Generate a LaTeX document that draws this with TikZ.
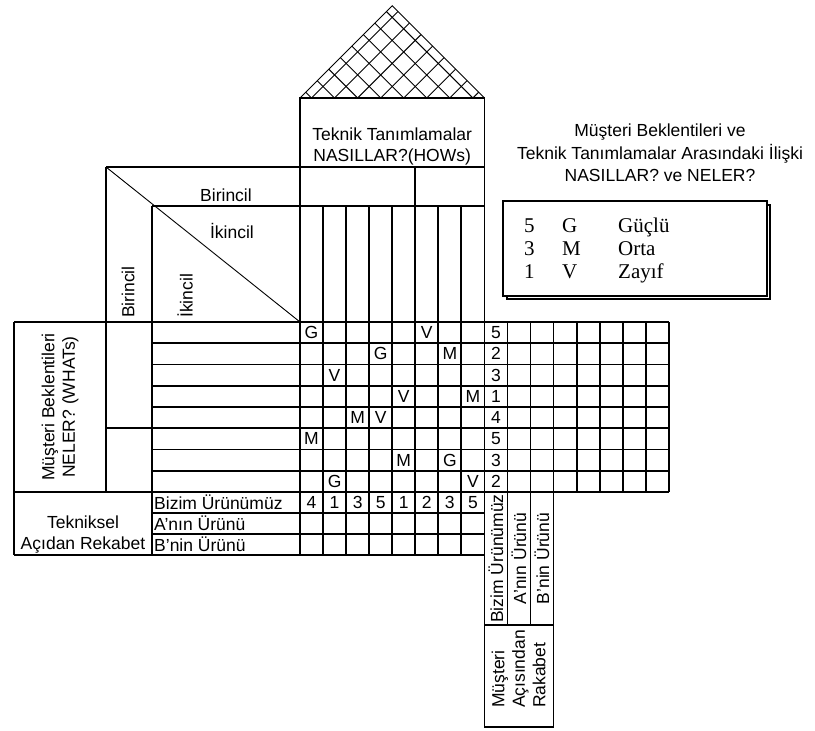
\documentclass[tikz,border=0pt]{standalone}
\usepackage{fontspec}
\setmainfont{Liberation Sans}
\newfontfamily\legendfont{Liberation Serif}
\usetikzlibrary{calc}
\newcommand{\hoqfont}{\fontsize{17.5}{20.5}\selectfont}
\newcommand{\colw}{23.05}
\newcommand{\rowh}{21.25}
\tikzset{
  gridline/.style={line width=1.8pt},
  thinline/.style={line width=0.9pt},
  lbl/.style={font=\hoqfont, inner sep=0pt},
  legtext/.style={font=\legendfont\fontsize{21}{23}\selectfont, inner sep=0pt, anchor=base west}
}

\begin{document}
\begin{tikzpicture}[x=1pt, y=-1pt]
  \useasboundingbox (0,0) rectangle (815,731);

  % roof
  \draw[thinline] (300,98) -- (392.2,5.8) -- (484.4,98);
  \foreach \k in {0,...,7}{
    \pgfmathsetmacro\xk{300+\colw*(\k+0.5)}
    \pgfmathsetmacro\ur{(484.4-\xk)/2}
    \pgfmathsetmacro\ul{(\xk-300)/2}
    \draw[thinline] (\xk,98) -- ++(\ur,-\ur);
    \draw[thinline] (\xk,98) -- ++(-\ul,-\ul);
  }

  % HOWs header
  \draw[gridline] (300,98) rectangle (484.4,167);
  \node[lbl, align=center, anchor=south] (hows) at (392.2,165) {Teknik Tanımlamalar\\NASILLAR?(HOWs)};
  \draw[gridline] (106,167) -- (484.4,167);
  \draw[gridline] (152,206) -- (484.4,206);
  \draw[gridline] (106,167) -- (106,492);
  \draw[gridline] (152,206) -- (152,555);
  \draw[gridline] (300,167) -- (300,555);
  \draw[gridline] (484.4,167) -- (484.4,727);
  \draw[gridline] (415.25,167) -- (415.25,206);
  \draw[thinline] (106,167) -- (300,322);

  \node[lbl] (topbir) at (226,195) {Birincil};
  \node[lbl] (topiki) at (232,231) {İkincil};
  \node[lbl, rotate=90, anchor=west] (sidebir) at (128,318) {Birincil};
  \node[lbl, rotate=90, anchor=west] (sideiki) at (185,318) {İkincil};

  % matrix columns and rows
  \foreach \i in {1,...,7}
    \draw[gridline] ({300+\colw*\i},206) -- ({300+\colw*\i},555);
  \foreach \i in {9,10}
    \draw[gridline] ({300+\colw*\i},322) -- ({300+\colw*\i},625);
  \draw[gridline] ({300+\colw*11},322) -- ({300+\colw*11},727);
  \foreach \i in {12,...,16}
    \draw[gridline] ({300+\colw*\i},322) -- ({300+\colw*\i},492);
  \foreach \j in {1,...,7}
    \draw[gridline] (152,{322+\rowh*\j}) -- (668.8,{322+\rowh*\j});
  \draw[gridline] (14,322) -- (668.8,322);
  \draw[gridline] (14,492) -- (668.8,492);
  \draw[gridline] (106,428.25) -- (152,428.25);
  \draw[gridline] (14,322) -- (14,555);

  \node[lbl, rotate=90, align=center] (whats) at (60,407) {Müşteri Beklentileri\\NELER? (WHATs)};

  % relationships
  \foreach \cc/\rr/\ltr in {1/1/G, 6/1/V, 4/2/G, 7/2/M, 2/3/V, 5/4/V, 8/4/M, 3/5/M,
                            4/5/V, 1/6/M, 5/7/M, 7/7/G, 2/8/G, 8/8/V}
    \node[lbl] (rel-\cc-\rr) at ({300+\colw*(\cc-0.5)},{322+\rowh*(\rr-0.5)}) {\ltr};
  \foreach \v [count=\j] in {5,2,3,1,4,5,3,2}
    \node[lbl] (imp\j) at (496,{322+\rowh*(\j-0.5)}) {\v};

  % technical competition
  \foreach \j in {1,2}
    \draw[gridline] (152,{492+21*\j}) -- (484.4,{492+21*\j});
  \draw[gridline] (14,555) -- (484.4,555);
  \node[lbl, align=center, anchor=south] (tekrek) at (83,553) {Tekniksel\\Açıdan Rekabet};
  \foreach \txt [count=\j from 0] in {Bizim Ürünümüz, A'nın Ürünü, B'nin Ürünü}
    \node[lbl, anchor=west] (comp\j) at (154,{502.5+21*\j}) {\txt};
  \foreach \v [count=\i] in {4,1,3,5,1,2,3,5}
    \node[lbl] (ours\i) at ({300+\colw*(\i-0.5)},502.5) {\v};

  % customer competition
  \draw[gridline] (484.4,625) -- (553.5,625);
  \draw[gridline] (484.4,727) -- (553.5,727);
  \node[lbl, rotate=90] (colours) at (496,558.5) {Bizim Ürünümüz};
  \node[lbl, rotate=90] (cola) at (519,558.5) {A'nın Ürünü};
  \node[lbl, rotate=90] (colb) at (542,558.5) {B'nin Ürünü};
  \node[lbl, rotate=90, align=left] (musrek) at (518.5,669) {Müşteri\\Açısından\\Rakabet};

  % legend
  \node[lbl, align=center, font=\fontsize{17.5}{22.5}\selectfont] (reltitle) at (660,153)
    {Müşteri Beklentileri ve\\Teknik Tanımlamalar Arasındaki İlişki\\NASILLAR? ve NELER?};
  \draw[line width=1.2pt] (507,205) rectangle (770,299);
  \draw[line width=1.2pt, fill=white] (503,201) rectangle (767,296);
  \foreach \n/\l/\w [count=\j from 0] in {5/G/Güçlü, 3/M/Orta, 1/V/Zayıf}{
    \node[legtext] (legn\j) at (524,{232.7+23*\j}) {\n};
    \node[legtext] (legl\j) at (562,{232.7+23*\j}) {\l};
    \node[legtext] (legw\j) at (618,{232.7+23*\j}) {\w};
  }
\end{tikzpicture}
\end{document}
